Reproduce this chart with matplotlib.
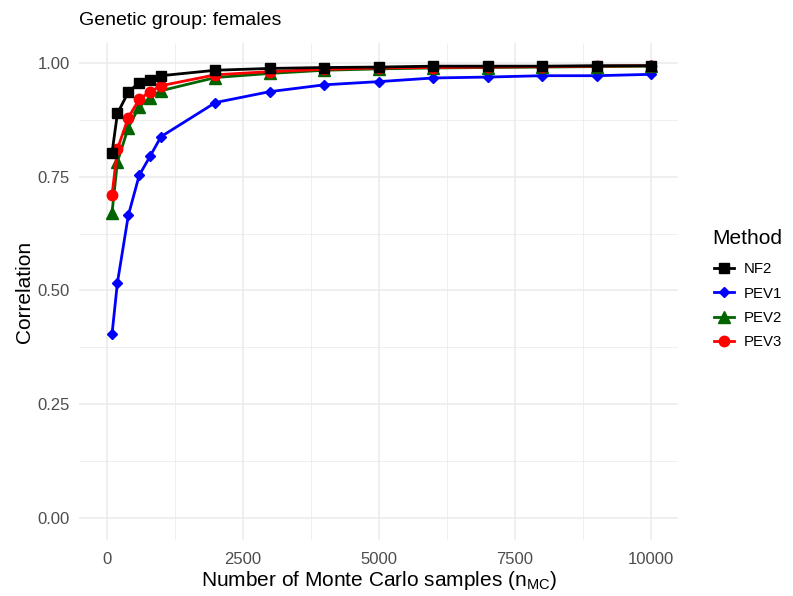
import matplotlib.pyplot as plt
import numpy as np

plt.rcParams['font.family'] = ['Liberation Sans', 'DejaVu Sans']

n_mc = [100, 200, 400, 600, 800, 1000, 2000, 3000, 4000, 5000, 6000, 7000, 8000, 9000, 10000]
nf2 = [0.802, 0.889, 0.936, 0.957, 0.963, 0.972, 0.984, 0.988, 0.990, 0.991, 0.993, 0.993, 0.993, 0.994, 0.994]
pev1 = [0.403, 0.517, 0.665, 0.753, 0.795, 0.838, 0.913, 0.937, 0.952, 0.959, 0.967, 0.969, 0.972, 0.972, 0.975]
pev2 = [0.670, 0.783, 0.858, 0.904, 0.924, 0.939, 0.968, 0.977, 0.984, 0.987, 0.989, 0.990, 0.991, 0.992, 0.993]
pev3 = [0.709, 0.811, 0.880, 0.920, 0.937, 0.950, 0.974, 0.981, 0.986, 0.989, 0.990, 0.991, 0.992, 0.993, 0.994]

fig = plt.figure(figsize=(7.93, 5.96), dpi=100)
ax = fig.add_axes([0.1000, 0.0933, 0.7556, 0.8344])

# draw order: PEV1, PEV2, PEV3, then NF2 on top
h1, = ax.plot(n_mc, pev1, color='#0000FF', lw=2, marker='D', ms=5, label='PEV1', zorder=3)
h2, = ax.plot(n_mc, pev2, color='#006400', lw=2, marker='^', ms=8, label='PEV2', zorder=4)
h3, = ax.plot(n_mc, pev3, color='#FF0000', lw=2, marker='o', ms=7.5, label='PEV3', zorder=5)
h0, = ax.plot(n_mc, nf2, color='black', lw=2, marker='s', ms=7.5, label='NF2', zorder=6)

ax.set_xlim(-500, 10500)
ax.set_ylim(-0.0497, 1.0437)
ax.set_xticks([0, 2500, 5000, 7500, 10000])
ax.set_xticks([1250, 3750, 6250, 8750], minor=True)
ax.set_yticks([0, 0.25, 0.5, 0.75, 1.0])
ax.set_yticklabels(['0.00', '0.25', '0.50', '0.75', '1.00'])
ax.set_yticks([0.125, 0.375, 0.625, 0.875], minor=True)
ax.grid(which='major', color='#EBEBEB', lw=1.1)
ax.grid(which='minor', color='#EBEBEB', lw=0.55)
ax.set_axisbelow(True)
for s in ax.spines.values():
    s.set_visible(False)
ax.tick_params(which='both', length=0, labelsize=12, labelcolor='#4D4D4D')
ax.tick_params(axis='y', pad=7)
ax.tick_params(axis='x', pad=8)

ax.set_xlabel('Number of Monte Carlo samples (n$_\\mathregular{MC}$)', fontsize=15, labelpad=2)
ax.set_ylabel('Correlation', fontsize=15, labelpad=2)
ax.set_title('Genetic group: females', fontsize=14, loc='left', pad=13)

fig.text(0.898, 0.600, 'Method', fontsize=15, ha='left', va='center')
leg = fig.legend(handles=[h0, h1, h2, h3], loc='center left',
                 bbox_to_anchor=(0.893, 0.487), frameon=False, fontsize=10.8,
                 handlelength=1.3, handletextpad=0.67,
                 labelspacing=0.68, borderaxespad=0)

plt.savefig('out.png', dpi=100)
